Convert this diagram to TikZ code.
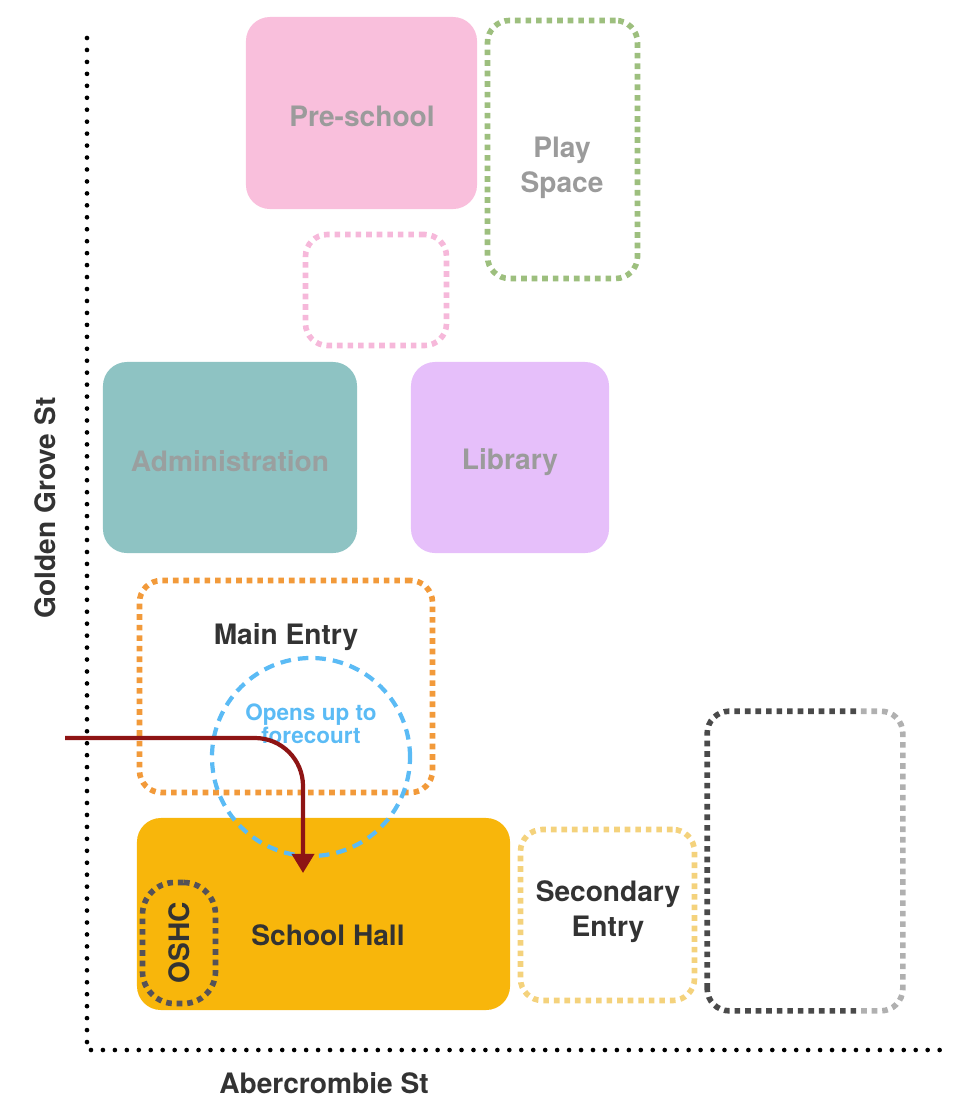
\documentclass[tikz,border=0pt]{standalone}
\usepackage{fontspec}
\setmainfont{TeX Gyre Heros}
\usepackage{tikz}
\usetikzlibrary{arrows.meta,positioning}
\definecolor{preschoolpink}{HTML}{F9BFDC}
\definecolor{playgreen}{HTML}{9DBF7E}
\definecolor{softpink}{HTML}{F6B8DA}
\definecolor{adminteal}{HTML}{8EC3C3}
\definecolor{librarylilac}{HTML}{E6BFFA}
\definecolor{entryorange}{HTML}{F29A3A}
\definecolor{forecourtblue}{HTML}{5BBBF5}
\definecolor{hallamber}{HTML}{F8B60B}
\definecolor{oshcgray}{HTML}{555258}
\definecolor{secondaryyellow}{HTML}{F4D27C}
\definecolor{gardendark}{HTML}{4A4A4A}
\definecolor{gardenlight}{HTML}{B0B0B0}
\definecolor{labeldark}{HTML}{333333}
\definecolor{labelgray}{HTML}{9B9B9B}
\definecolor{pathred}{HTML}{8E1414}

\begin{document}
\begin{tikzpicture}[x=0.025cm,y=-0.025cm,
        font=\fontsize{20}{25}\selectfont\bfseries,
        block/.style={rounded corners=0.6cm,inner sep=0pt,align=center},
        dotbox/.style={line width=4pt,dash pattern=on 4pt off 3.5pt,
              rounded corners=0.55cm,inner sep=0pt,align=center},
        street/.style={line width=3.3pt,line cap=round,
              dash pattern=on 0pt off 8.5pt},
        roomlabel/.style={text=labeldark,align=center,inner sep=0pt}]
        \useasboundingbox (0,0) rectangle (958,1099);

        % streets
        \coordinate (streettop) at (87,38);
        \coordinate (streetcorner) at (87,1050);
        \coordinate (streetend) at (940,1050);
        \draw[street] (streettop) -- (streetcorner) -- (streetend);
        \node[roomlabel,rotate=90] (golden) at (45,508) {Golden Grove St};
        \node[roomlabel] (abercrombie) at (324,1083) {Abercrombie St};

        % upper buildings
        \node[block,fill=preschoolpink,text=labelgray,
              minimum width=5.775cm,minimum height=4.8cm]
              (preschool) at (361.5,113) {};
        \node[roomlabel,text=labelgray] (preschoollbl) at (362,116) {Pre-school};
        \node[dotbox,draw=playgreen,
              minimum width=3.75cm,minimum height=6.45cm]
              (play) at (562.5,149.5) {};
        \node[roomlabel,text=labelgray] (playlbl) at (562,168) {Play\\Space};
        \node[dotbox,draw=softpink,
              minimum width=3.525cm,minimum height=2.775cm]
              (annex) at (376,290) {};
        \node[block,fill=adminteal,
              minimum width=6.35cm,minimum height=4.775cm]
              (admin) at (230,457.5) {};
        \node[roomlabel,text=labelgray!90!adminteal] (adminlbl) at (230,461) {Administration};
        \node[block,fill=librarylilac,
              minimum width=4.95cm,minimum height=4.775cm]
              (library) at (510,457.5) {};
        \node[roomlabel,text=labelgray] (librarylbl) at (510,462) {Library};

        % hall and entries
        \node[block,fill=hallamber,
              minimum width=9.325cm,minimum height=4.8cm]
              (hall) at (323.5,914) {};
        \node[roomlabel] (halllbl) at (328,935) {School Hall};
        \node[dotbox,draw=entryorange,
              minimum width=7.325cm,minimum height=5.3cm]
              (mainentry) at (286,686.5) {};
        \node[roomlabel] (mainlbl) at (286,637) {Main Entry};
        \node[circle,draw=forecourtblue,line width=3pt,
              dash pattern=on 7.5pt off 5pt,minimum size=4.95cm]
              (forecourt) at (311,757) {};
        \node[text=forecourtblue,align=center,inner sep=0pt,
              font=\fontsize{16}{14}\selectfont\bfseries]
              (forecourtlbl) at (311,724) {Opens up to\\forecourt};
        \node[dotbox,draw=oshcgray,rounded corners=0.8cm,
              minimum width=1.825cm,minimum height=3.025cm]
              (oshc) at (179,943) {};
        \node[roomlabel,rotate=90] (oshclbl) at (oshc) {OSHC};
        \node[dotbox,draw=secondaryyellow,
              minimum width=4.35cm,minimum height=4.275cm]
              (secondary) at (607.5,915) {};
        \node[roomlabel] (secondarylbl) at (608,912) {Secondary\\Entry};

        % garden plot, fading to the right
        \node[minimum width=4.875cm,minimum height=7.475cm,inner sep=0pt]
              (garden) at (805,861) {};
        \begin{scope}
          \clip (690,690) rectangle (860,1030);
          \draw[dotbox,draw=gardendark] (garden.south west) rectangle (garden.north east);
        \end{scope}
        \begin{scope}
          \clip (860,690) rectangle (930,1030);
          \draw[dotbox,draw=gardenlight] (garden.south west) rectangle (garden.north east);
        \end{scope}

        % entry route
        \coordinate (routestart) at (65,738);
        \coordinate (routeend) at (303,873);
        \draw[-{Triangle[width=0.55cm,length=0.48cm]},pathred,line width=3pt,
              rounded corners=1.2cm] (routestart) -| (routeend);
      \end{tikzpicture}
\end{document}
